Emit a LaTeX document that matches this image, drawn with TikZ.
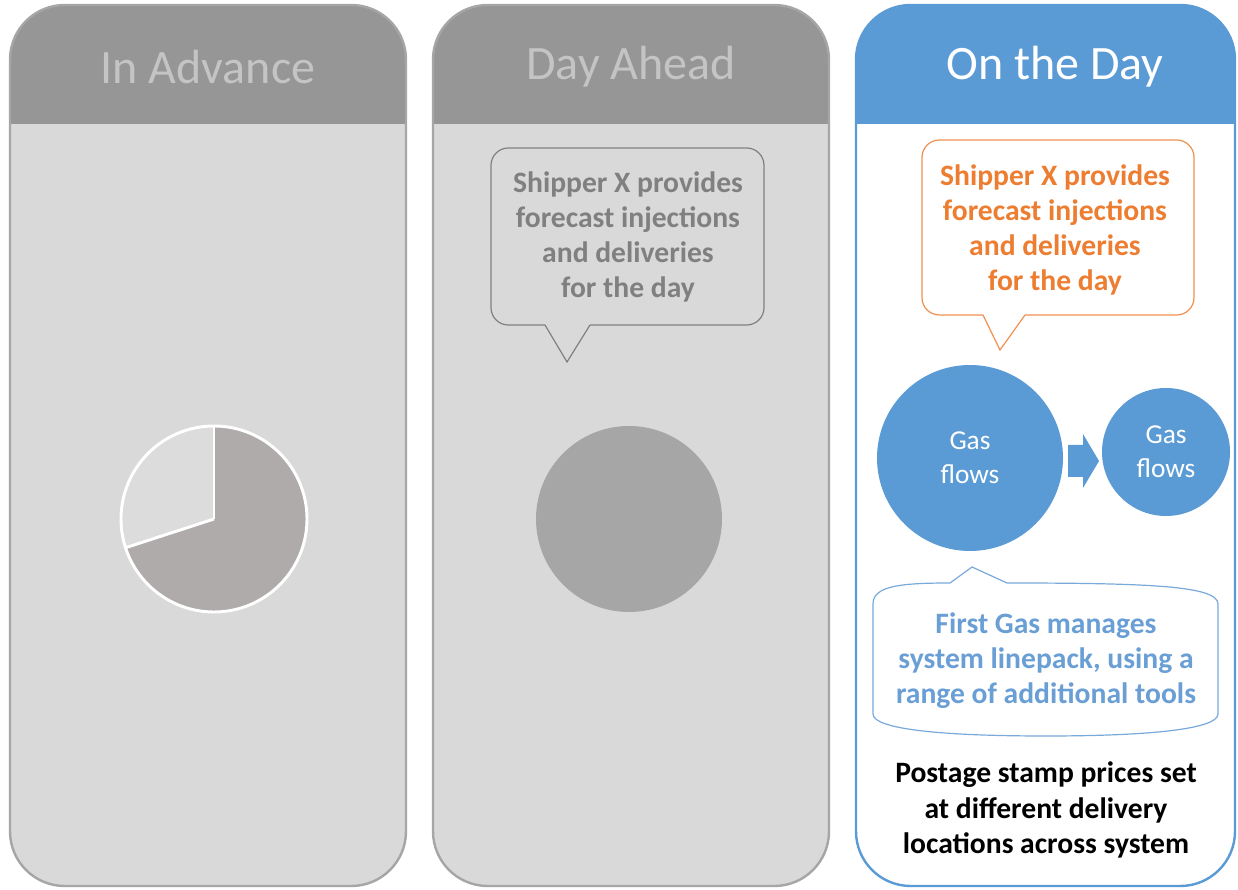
\documentclass[tikz,border=0pt]{standalone}
\usepackage{fontspec}
\setmainfont{Carlito}
\definecolor{headgray}{HTML}{969696}
\definecolor{headtxt}{HTML}{C4C4C4}
\definecolor{bodygray}{HTML}{D9D9D9}
\definecolor{edgegray}{HTML}{A6A6A6}
\definecolor{notegray}{HTML}{808080}
\definecolor{discgray}{HTML}{A6A6A6}
\definecolor{piedark}{HTML}{AFABAB}
\definecolor{pielight}{HTML}{DCDCDC}
\definecolor{flowblue}{HTML}{5B9BD5}
\definecolor{noteorange}{HTML}{ED7D31}
\definecolor{noteblue}{HTML}{6A9FD6}
\begin{document}
\begin{tikzpicture}
[x=0.75pt,y=0.75pt,
  headtext/.style={font=\fontsize{36}{40}\selectfont,inner sep=0pt},%
  notetext/.style={font=\bfseries\fontsize{22.2}{26.3}\selectfont,align=center,inner sep=0pt},%
  flowtext/.style={font=\fontsize{20.5}{25.5}\selectfont,align=center,text=white},%
  panelshape/.style={rounded corners=41pt},%
  noteline/.style={line width=0.9pt,rounded corners=13pt}]
\useasboundingbox (0,0) rectangle (1238,889);
%% the three columns
\foreach \xl/\xr/\hcol/\bcol/\ecol in {10/406/headgray/bodygray/edgegray,
  433/829/headgray/bodygray/edgegray, 856/1235/flowblue/white/flowblue} {
  \begin{scope}
    \clip[panelshape] (\xl,3) rectangle (\xr,884);
    \fill[\bcol] (\xl,3) rectangle (\xr,765);
    \fill[\hcol] (\xl,765) rectangle (\xr,884);
  \end{scope}
  \draw[panelshape,\ecol,line width=1.8pt] (\xl,3) rectangle (\xr,884);
}
\node[headtext,text=headtxt] (titleAdv) at (208,822) {In Advance};
\node[headtext,text=headtxt] (titleAhead) at (631,822) {Day Ahead};
\node[headtext,text=white] (titleDay) at (1055,822) {On the Day};
%% in advance: pie
\node[circle,minimum size=139.5pt,fill=pielight] (pie) at (214,370) {};
\fill[piedark] (pie.center) -- ++(198:69.75pt)
  arc[start angle=198,end angle=450,radius=69.75pt] -- cycle;
\draw[white,line width=2.2pt] (pie.center) circle[radius=69.75pt];
\draw[white,line width=2.2pt] (pie.center) -- ++(90:69.75pt);
\draw[white,line width=2.2pt] (pie.center) -- ++(198:69.75pt);
%% day ahead: note and disc
\draw[noteline,notegray] (545,564) -- (491,564) -- (491,741) -- (764,741)
  -- (764,564) -- (590,564);
\draw[line width=0.9pt,notegray] (590,564) -- (567,527) -- (545,564);
\node[notetext,text=notegray] (shipAhead) at (628,652)
  {Shipper X provides\\forecast injections\\and deliveries\\for the day};
\node[circle,minimum size=139.5pt,fill=discgray] (disc) at (629,370) {};
%% on the day: note, flows and linepack
\draw[noteline,noteorange!85] (983,574) -- (922,574) -- (922,749) -- (1194,749)
  -- (1194,574) -- (1025,574);
\draw[line width=0.9pt,noteorange!85] (1025,574) -- (1000,539) -- (983,574);
\node[notetext,text=noteorange] (shipDay) at (1055,659)
  {Shipper X provides\\forecast injections\\and deliveries\\for the day};
\node[circle,minimum size=139.5pt,fill=flowblue,flowtext] (gasA) at (970,431) {Gas\\flows};
\node[circle,minimum size=96pt,fill=flowblue,flowtext] (gasB) at (1166,437) {Gas\\flows};
\fill[flowblue] (1068,412) -- (1083,412) -- (1083,401) -- (1099,428)
  -- (1083,455) -- (1083,444) -- (1068,444) -- cycle;
\draw[line width=0.9pt,noteblue!90] (950,306) -- (972,322) -- (1007,306)
  .. controls (1150,306) and (1218,303) .. (1218,285) -- (1218,175)
  .. controls (1218,160) and (1150,153) .. (1046,153)
  .. controls (940,153) and (873,160) .. (873,175) -- (873,285)
  .. controls (873,303) and (900,306) .. (950,306) -- cycle;
\node[notetext,text=noteblue] (linepack) at (1046,228)
  {First Gas manages\\system linepack, using a\\range of additional tools};
\node[notetext,text=black] (postage) at (1046,79)
  {Postage stamp prices set\\at different delivery\\locations across system};
\end{tikzpicture}
\end{document}
